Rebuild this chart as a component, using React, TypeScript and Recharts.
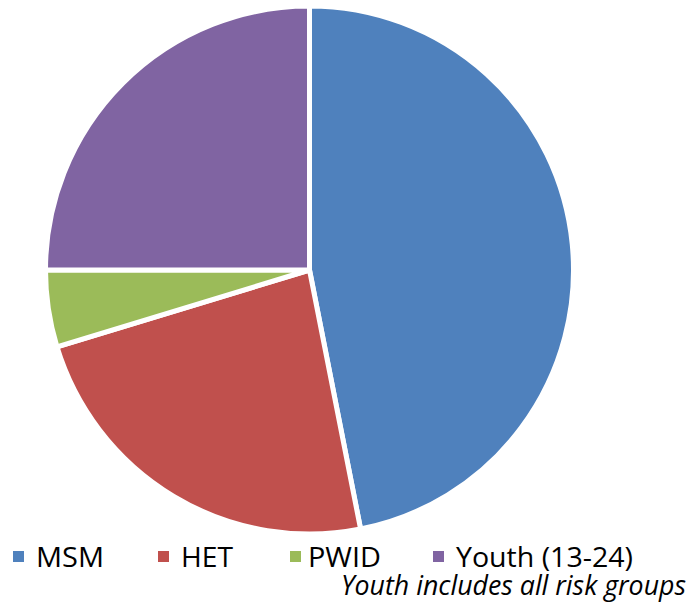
import React from 'react';
import { PieChart, Pie, Cell, Legend } from 'recharts';

const categories = ['MSM', 'HET', 'PWID', 'Youth (13-24)'];
const values = [46.9, 23.4, 4.7, 25.0];
const colors = ['#4F81BD', '#C0504D', '#9BBB59', '#8064A2'];
const note = 'Youth includes all risk groups';

const data = categories.map((name, i) => ({ name, value: values[i] }));

// legend layout (px, page coordinates)
const LEGEND_TOP = 536;
const squareX = [13, 158, 290, 433];
const textX = [36, 181, 308, 456];
const textW = [68, 52, 73, 177];

const renderLegend = () => {
  return (
    <svg width={689} height={66} style={{ display: 'block' }}>
      {categories.map((name, i) => (
        <g key={name}>
          <rect x={squareX[i]} y={551 - LEGEND_TOP} width={11} height={11} fill={colors[i]} />
          <text
            x={textX[i]}
            y={567 - LEGEND_TOP}
            fontFamily="'Open Sans', sans-serif"
            fontSize={28}
            fill="#000"
            textLength={textW[i]}
            lengthAdjust="spacingAndGlyphs"
          >
            {name}
          </text>
        </g>
      ))}
      <text
        x={341}
        y={595 - LEGEND_TOP}
        fontFamily="'Open Sans', sans-serif"
        fontStyle="italic"
        fontSize={27}
        fill="#000"
        textLength={345}
        lengthAdjust="spacingAndGlyphs"
      >
        {note}
      </text>
    </svg>
  );
};

export default function App() {
  return (
    <div style={{ position: 'absolute', left: 0, top: 0, width: 689, height: 602, background: '#fff' }}>
      <PieChart width={689} height={602} margin={{ top: 0, right: 0, bottom: 0, left: 0 }}>
        <Pie
          data={data}
          dataKey="value"
          nameKey="name"
          cx={309.5}
          cy={270}
          outerRadius={264}
          startAngle={90}
          endAngle={-270}
          stroke="#ffffff"
          strokeWidth={5}
          isAnimationActive={false}
          label={false}
          labelLine={false}
        >
          {data.map((d, i) => (
            <Cell key={d.name} fill={colors[i]} />
          ))}
        </Pie>
        <Legend
          content={renderLegend}
          wrapperStyle={{ position: 'absolute', left: 0, top: LEGEND_TOP, width: 689, height: 66 }}
        />
      </PieChart>
    </div>
  );
}
